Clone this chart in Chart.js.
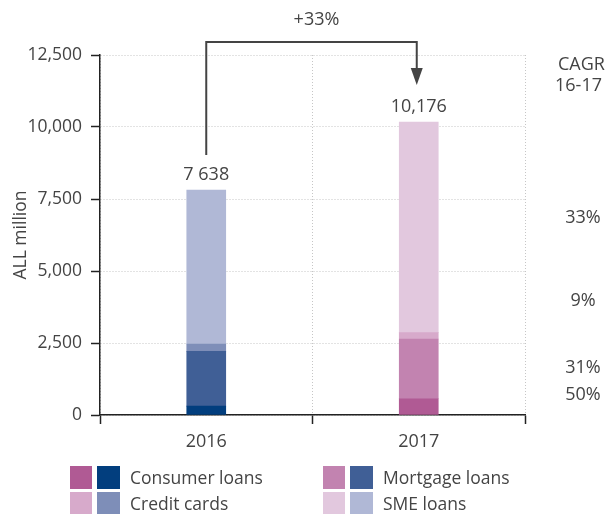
<!DOCTYPE html>
<html>
<head>
<meta charset="utf-8">
<script src="https://cdn.jsdelivr.net/npm/chart.js@4"></script>
<style>
  html, body { margin: 0; padding: 0; background: #fff; }
</style>
</head>
<body>
<canvas id="loansChart" width="606" height="514"></canvas>
<script>
// values (ALL million)
const categories = ['2016', '2017'];
const consumerLoans = [310, 565];
const mortgageLoans = [1900, 2075];
const creditCards = [255, 220];
const smeLoans = [5345, 7310];
const totalLabels = ['7 638', '10,176'];
const growthLabel = '+33%';
const cagrTitle = ['CAGR', '16-17'];
const cagrLabels = ['33%', '9%', '31%', '50%'];
const yTicks = [0, 2500, 5000, 7500, 10000, 12500];

const legendNames = ['Consumer loans', 'Mortgage loans', 'Credit cards', 'SME loans'];
const blueColors = ['#023e7e', '#405f96', '#7e8eb8', '#b0b8d6'];
const pinkColors = ['#b05a94', '#c283b0', '#d7aacb', '#e2c8de'];

const textColor = '#444';
const fontFamily = '"Open Sans", "Liberation Sans", sans-serif';

const seriesList = [consumerLoans, mortgageLoans, creditCards, smeLoans];

const annotations = {
    id: 'annotations',
    afterDraw(chart) {
        const ctx = chart.ctx;
        const xs = chart.scales.x;
        const ys = chart.scales.y;
        ctx.save();
        ctx.fillStyle = textColor;
        ctx.textBaseline = 'middle';

        // totals above the bars
        ctx.font = '18px ' + fontFamily;
        ctx.textAlign = 'center';
        const labelY = [];
        categories.forEach((c, i) => {
            const total = seriesList.reduce((s, arr) => s + arr[i], 0);
            const yy = ys.getPixelForValue(total) - 15;
            labelY.push(yy);
            ctx.fillText(totalLabels[i], xs.getPixelForValue(i), yy);
        });

        // growth arrow
        const x0 = xs.getPixelForValue(0);
        const x1 = xs.getPixelForValue(1) - 2;
        const topY = 42;
        const tipY = labelY[1] - 22;
        ctx.strokeStyle = '#444';
        ctx.lineWidth = 2;
        ctx.beginPath();
        ctx.moveTo(x0, labelY[0] - 20);
        ctx.lineTo(x0, topY);
        ctx.lineTo(x1, topY);
        ctx.lineTo(x1, tipY - 14);
        ctx.stroke();
        ctx.fillStyle = '#444';
        ctx.beginPath();
        ctx.moveTo(x1 - 6, tipY - 17);
        ctx.lineTo(x1 + 6, tipY - 17);
        ctx.lineTo(x1, tipY);
        ctx.closePath();
        ctx.fill();

        ctx.fillStyle = textColor;
        ctx.fillText(growthLabel, (x0 + x1) / 2 + 5, 20);

        // CAGR column
        ctx.textAlign = 'left';
        ctx.fillText(cagrTitle[0], 558, 65);
        ctx.fillText(cagrTitle[1], 555, 86);
        ctx.textAlign = 'center';
        const cagrY = [218, 301, 368, 395];
        cagrLabels.forEach((t, i) => ctx.fillText(t, 583, cagrY[i]));

        // legend with paired swatches
        const cols = [70, 323];
        const rows = [466, 492];
        ctx.textAlign = 'left';
        ctx.font = '17.5px ' + fontFamily;
        legendNames.forEach((name, i) => {
            const lx = cols[i % 2];
            const ly = rows[Math.floor(i / 2)];
            ctx.fillStyle = pinkColors[i];
            ctx.fillRect(lx, ly, 22, 23);
            ctx.fillStyle = blueColors[i];
            ctx.fillRect(lx + 27, ly, 23, 23);
            ctx.fillStyle = textColor;
            ctx.fillText(name, lx + 60, ly + 13);
        });
        ctx.restore();
    }
};

const ctx = document.getElementById('loansChart');
ctx.chartInstance = new Chart(ctx, {
    type: 'bar',
    data: {
        labels: categories,
        datasets: seriesList.map((values, i) => ({
            label: legendNames[i],
            data: values,
            backgroundColor: [blueColors[i], pinkColors[i]],
            borderWidth: 0,
            barThickness: 39
        }))
    },
    options: {
        responsive: false,
        animation: false,
        layout: {
            padding: { top: 55, right: 81, bottom: 39, left: 0 }
        },
        scales: {
            x: {
                stacked: true,
                offset: true,
                afterFit: (scale) => { scale.height = 60; },
                grid: {
                    offset: true,
                    color: '#c6c6c6',
                    tickColor: '#222',
                    tickBorderDash: [],
                    tickLength: 9,
                    lineWidth: 1,
                    tickWidth: 1.5
                },
                border: { color: '#222', width: 1.5, dash: [1, 2] },
                ticks: {
                    color: textColor,
                    padding: 7,
                    font: { family: fontFamily, size: 18 }
                }
            },
            y: {
                stacked: true,
                min: 0,
                max: 12500,
                afterFit: (scale) => { scale.width = 100; },
                afterBuildTicks: (scale) => { scale.ticks = yTicks.map(v => ({ value: v })); },
                grid: {
                    color: '#c6c6c6',
                    tickColor: '#222',
                    tickBorderDash: [],
                    tickLength: 9,
                    lineWidth: 1,
                    tickWidth: 1.5
                },
                border: { color: '#222', width: 1.5, dash: [1, 2] },
                ticks: {
                    color: textColor,
                    padding: 9,
                    font: { family: fontFamily, size: 17.5 },
                    callback: (v) => v.toLocaleString('en-US')
                },
                title: {
                    display: true,
                    text: 'ALL million',
                    color: textColor,
                    padding: { top: 11 },
                    font: { family: fontFamily, size: 17.5 }
                }
            }
        },
        plugins: {
            legend: { display: false },
            tooltip: { enabled: false }
        }
    },
    plugins: [annotations]
});
</script>
</body>
</html>
